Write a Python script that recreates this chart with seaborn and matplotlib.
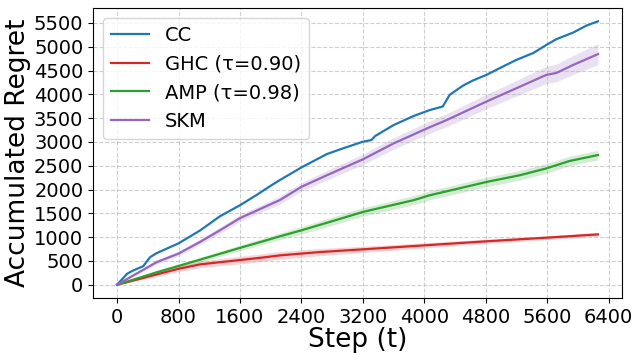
import numpy as np
import matplotlib
matplotlib.use("Agg")
import matplotlib.pyplot as plt
import pandas as pd
import seaborn as sns

# values
cc_steps = [0, 130, 210, 340, 430, 510, 800, 1080, 1340, 1600, 1820, 1990, 2120, 2400,
            2730, 2940, 3200, 3310, 3360, 3600, 3860, 4070, 4240, 4330, 4500, 4630, 4810,
            4980, 5200, 5420, 5590, 5720, 5940, 6110, 6260]
cc_regret = [0, 230, 300, 390, 580, 660, 870, 1140, 1440, 1670, 1890, 2070, 2200, 2465,
             2745, 2865, 3005, 3040, 3125, 3355, 3545, 3670, 3745, 3990, 4180, 4290, 4410,
             4550, 4725, 4870, 5040, 5160, 5300, 5445, 5535]

ghc_steps = [0, 515, 800, 1080, 1600, 1860, 2120, 2400, 2640, 3200, 4000, 4800, 5600, 6260]
ghc_regret = [0, 217, 335, 428, 520, 565, 617, 655, 687, 744, 828, 912, 990, 1058]
ghc_band = [0, 45, 60, 70, 80, 80, 80, 80, 75, 65, 55, 45, 40, 40]

amp_steps = [0, 515, 800, 1080, 1600, 1860, 2120, 2400, 2810, 3200, 3860, 4070, 4810,
             5240, 5590, 5890, 6260]
amp_regret = [0, 262, 395, 527, 775, 895, 1018, 1144, 1340, 1530, 1777, 1880, 2160,
              2300, 2445, 2600, 2725]
amp_band = [0, 30, 40, 50, 60, 65, 70, 80, 85, 90, 95, 95, 100, 100, 100, 100, 100]

skm_steps = [0, 210, 515, 800, 1080, 1340, 1600, 1860, 2120, 2400, 2730, 3200, 3600,
             4070, 4290, 4810, 5200, 5590, 5720, 5940, 6260]
skm_regret = [0, 195, 475, 655, 900, 1145, 1400, 1590, 1780, 2057, 2300, 2635, 2970,
              3310, 3460, 3850, 4130, 4410, 4450, 4620, 4845]
skm_band = [0, 25, 40, 50, 60, 65, 70, 75, 85, 90, 100, 110, 120, 130, 135, 150, 165,
            180, 185, 200, 220]

labels = ["CC", "GHC (τ=0.90)", "AMP (τ=0.98)", "SKM"]
colors = ["tab:blue", "tab:red", "tab:green", "tab:purple"]

series = [
    (cc_steps, cc_regret, None),
    (ghc_steps, ghc_regret, ghc_band),
    (amp_steps, amp_regret, amp_band),
    (skm_steps, skm_regret, skm_band),
]

frames = []
for lab, (s, r, b) in zip(labels, series):
    frames.append(pd.DataFrame({"step": s, "regret": r, "method": lab}))
df = pd.concat(frames, ignore_index=True)

fig = plt.figure(figsize=(6.35, 3.53), dpi=100)
ax = fig.add_axes([0.1465, 0.156, 0.833, 0.821])

sns.lineplot(data=df, x="step", y="regret", hue="method", hue_order=labels,
             palette=colors, linewidth=1.6, ax=ax, sort=False)

for col, (s, r, b) in zip(colors, series):
    if b is None:
        continue
    s = np.array(s)
    r = np.array(r)
    b = np.array(b)
    ax.fill_between(s, r - b, r + b, color=col, alpha=0.2, linewidth=0)

ax.set_xticks(np.arange(0, 6401, 800))
ax.set_yticks(np.arange(0, 5501, 500))
ax.tick_params(labelsize=14)
ax.set_xlabel("Step (t)", fontsize=19, labelpad=0)
ax.set_ylabel("Accumulated Regret", fontsize=19, labelpad=2)
ax.grid(True, linestyle="--", linewidth=0.8, alpha=0.6)

ax.legend(loc="upper left", fontsize=14, title=None)

plt.savefig("out.png", dpi=100)
